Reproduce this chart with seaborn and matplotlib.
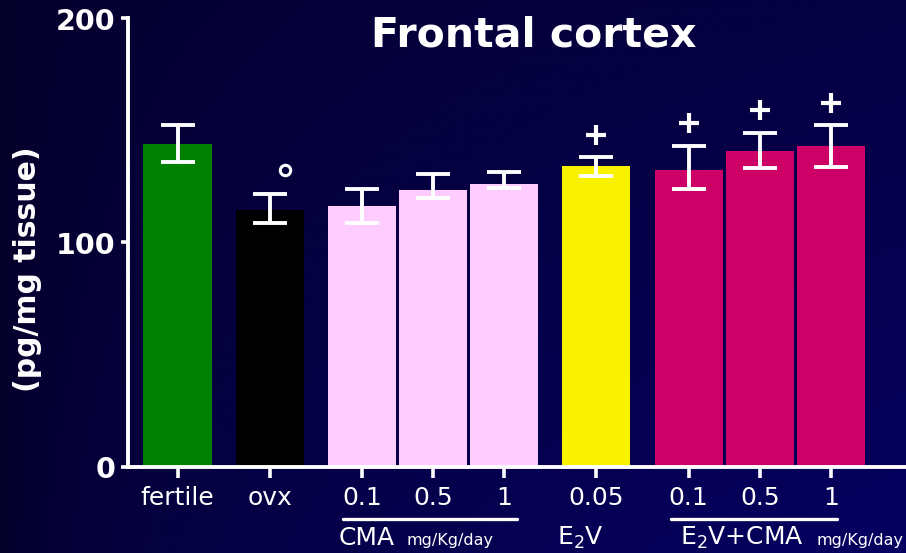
import numpy as np
import pandas as pd
import matplotlib
matplotlib.use("Agg")
import matplotlib.pyplot as plt
import seaborn as sns

# Hormone levels in frontal cortex (pg/mg tissue), mean with lower/upper error
labels = ["fertile", "ovx", "0.1", "0.5", "1", "0.05", "0.1", "0.5", "1"]
groups = ["fertile", "ovx", "CMA", "CMA", "CMA", "E2V", "E2V+CMA", "E2V+CMA", "E2V+CMA"]
means = [144.1, 114.5, 116.3, 123.5, 126.2, 134.2, 132.4, 140.9, 143.2]
err_low = [8.1, 5.6, 7.6, 3.5, 2.0, 4.4, 8.5, 7.7, 9.4]
err_high = [8.2, 7.2, 7.6, 7.1, 5.3, 3.9, 10.9, 8.2, 9.1]
signif = ["", "°", "", "", "", "+", "+", "+", "+"]

# bar centres along the axis (groups separated by wider gaps)
positions = [0.0, 1.3, 2.6, 3.6, 4.6, 5.9, 7.2, 8.2, 9.2]

palette = {
    "fertile": "#008000",
    "ovx": "#000000",
    "CMA": "#FFCCFF",
    "E2V": "#F8F200",
    "E2V+CMA": "#CC0066",
}

W, H, DPI = 906, 553, 100
sns.set_style("ticks")
plt.rcParams["font.family"] = ["DejaVu Sans"]

fig = plt.figure(figsize=(W / DPI, H / DPI), dpi=DPI)

# gradient backdrop: near-black navy on the left, deep blue to the lower right
bg = fig.add_axes([0, 0, 1, 1], zorder=-1)
yy, xx = np.mgrid[0:1:200j, 0:1:300j]
blue = (40 + np.sqrt(xx) * (26 + 30 * yy)) / 255.0
img = np.dstack([np.full_like(blue, 5 / 255), np.zeros_like(blue), blue])
bg.imshow(img, aspect="auto", extent=[0, 1, 0, 1], origin="upper")
bg.set_axis_off()

left_px, bottom_px, top_px = 128, 466.5, 18.5
ax = fig.add_axes([left_px / W, (H - bottom_px) / H,
                   1 - left_px / W, (bottom_px - top_px) / H])
ax.set_facecolor("none")

df = pd.DataFrame({"pos": positions, "value": means, "group": groups})
sns.barplot(data=df, x="pos", y="value", hue="group", palette=palette,
            native_scale=True, dodge=False, width=0.96, errorbar=None,
            saturation=1, legend=False, linewidth=0, ax=ax, zorder=2)

ax.errorbar(positions, means, yerr=[err_low, err_high], fmt="none",
            ecolor="white", elinewidth=2.8, capsize=12.5, capthick=2.8,
            zorder=3)

# significance marks above the error bars
for x, m, hi, s in zip(positions, means, err_high, signif):
    if s == "+":
        ax.plot(x, m + hi + 10, marker="+", ms=15, mew=3, color="white",
                ls="none", zorder=4, clip_on=False)
    elif s == "°":
        ax.plot(x + 0.22, m + hi + 10.5, marker="o", ms=7.5, mew=2.2,
                mfc="none", mec="white", ls="none", zorder=4, clip_on=False)

px = 71.0  # pixels per axis unit
ax.set_xlim(-(177.5 - left_px) / px, (W - 177.5) / px)
ax.set_ylim(0, 200)
ax.set_yticks([0, 100, 200])
ax.set_yticklabels(["0", "100", "200"], fontsize=20.5, fontweight="bold",
                   color="white")
ax.set_xticks(positions)
ax.set_xticklabels(labels, fontsize=18, color="white")
ax.tick_params(axis="y", length=5, width=2.6, color="white", pad=4)
ax.tick_params(axis="x", length=8, width=2.6, color="white", pad=6)
ax.set_xlabel("")
ax.set_ylabel("")
for side in ["top", "right"]:
    ax.spines[side].set_visible(False)
for side in ["left", "bottom"]:
    ax.spines[side].set_color("white")
    ax.spines[side].set_linewidth(2.8)
    ax.spines[side].set_capstyle("projecting")

# group brackets and names below the dose labels
trans = ax.get_xaxis_transform()
ax_h = bottom_px - top_px
def yfrac(ypix):
    return (bottom_px - ypix) / ax_h

def xdat(xpix):
    return (xpix - 177.5) / px

for x0, x1 in [(343, 517), (671, 837)]:
    ax.plot([xdat(x0), xdat(x1)], [yfrac(519)] * 2, color="white", lw=2.4,
            transform=trans, clip_on=False)

base = yfrac(545)
ax.text(xdat(339), base, "CMA", fontsize=18, color="white", ha="left",
        va="baseline", transform=trans)
ax.text(xdat(407), base, "mg/Kg/day", fontsize=11.5, color="white",
        ha="left", va="baseline", transform=trans)
ax.text(xdat(557), base, "E$_\\mathregular{2}$V", fontsize=18,
        color="white", ha="left", va="baseline", transform=trans)
ax.text(xdat(680), base, "E$_\\mathregular{2}$V+CMA", fontsize=18,
        color="white", ha="left", va="baseline", transform=trans)
ax.text(xdat(816), base, "mg/Kg/day", fontsize=11.5, color="white",
        ha="left", va="baseline", transform=trans)

fig.text(534 / W, 1 - 47 / H, "Frontal cortex", fontsize=29.5,
         fontweight="bold", color="white", ha="center", va="baseline")
fig.text(28 / W, 1 - 269 / H, "(pg/mg tissue)", fontsize=21.5,
         fontweight="bold", color="white", ha="center", va="center",
         rotation=90)

fig.savefig("out.png", dpi=DPI)
